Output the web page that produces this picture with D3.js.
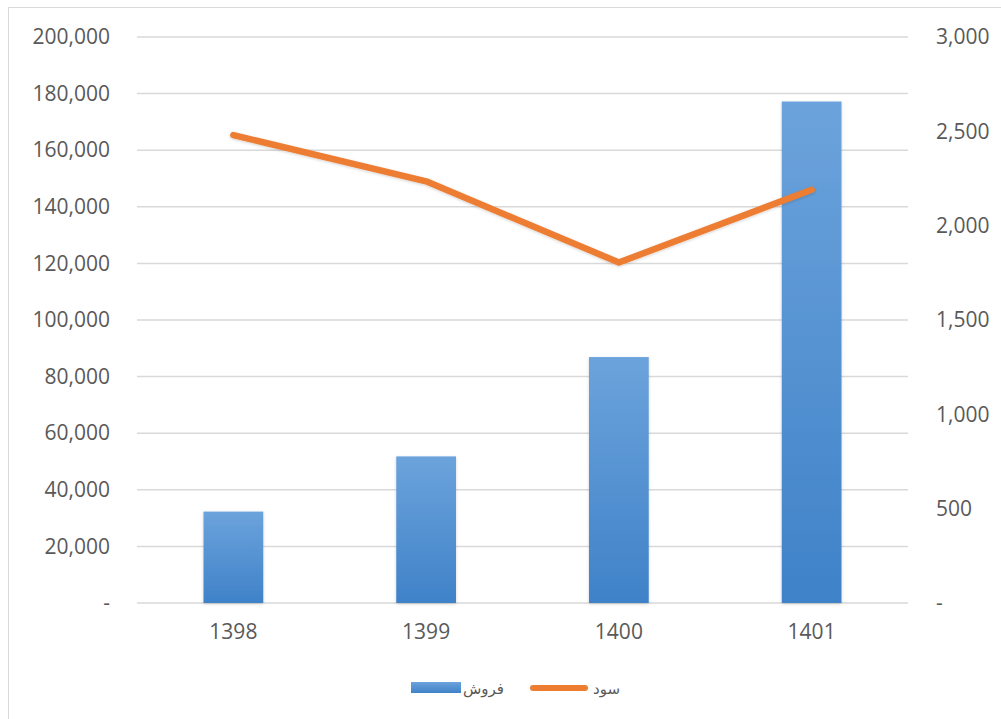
<!DOCTYPE html>
<html>
<head>
<meta charset="utf-8">
<script src="https://cdn.jsdelivr.net/npm/d3@7"></script>
<style>
  html, body { margin: 0; padding: 0; background: #fff; }
  svg text { font-family: "Open Sans", "Noto Sans", sans-serif; fill: #595959; }
  .legend text { font-family: "DejaVu Sans", "Noto Sans", sans-serif; }
</style>
</head>
<body>
<div id="chart"></div>
<script>
var years = ['1398', '1399', '1400', '1401'];
var sales = [32300, 51800, 86900, 177200];   // فروش
var profit = [2480, 2235, 1805, 2190];        // سود
var leftTicks = [0, 20000, 40000, 60000, 80000, 100000, 120000, 140000, 160000, 180000, 200000];
var rightTicks = [0, 500, 1000, 1500, 2000, 2500, 3000];
var legendLabels = ['فروش', 'سود'];

var width = 1001, height = 719,
  margin = {left: 137, right: 93, top: 37, bottom: 116};

var svg = d3.select("#chart").append("svg")
  .attr("width", width).attr("height", height);

var defs = svg.append("defs");
var grad = defs.append("linearGradient").attr("id", "barGrad")
  .attr("x1", 0).attr("y1", 0).attr("x2", 0).attr("y2", 1);
grad.append("stop").attr("offset", "0%").attr("stop-color", "#6ca3dc");
grad.append("stop").attr("offset", "100%").attr("stop-color", "#3f82c8");

var shadow = defs.append("filter").attr("id", "soft")
  .attr("x", "-20%").attr("y", "-20%").attr("width", "140%").attr("height", "140%");
shadow.append("feDropShadow").attr("dx", 0).attr("dy", 1).attr("stdDeviation", 1.5)
  .attr("flood-color", "#000").attr("flood-opacity", 0.18);

// outer frame
svg.append("rect").attr("x", 8.5).attr("y", 7.5)
  .attr("width", 1100).attr("height", 800)
  .attr("fill", "none").attr("stroke", "#d9d9d9").attr("stroke-width", 1);

var x = d3.scaleBand().domain(years)
  .range([margin.left, width - margin.right])
  .paddingInner(0.69).paddingOuter(0.345);

var y = d3.scaleLinear().domain([0, 200000])
  .range([height - margin.bottom, margin.top]);
var y2 = d3.scaleLinear().domain([0, 3000])
  .range([height - margin.bottom, margin.top]);

var fmt = d3.format(",");

// gridlines
svg.append("g").selectAll("line").data(leftTicks).enter().append("line")
  .attr("x1", margin.left).attr("x2", width - margin.right)
  .attr("y1", function(d){ return y(d) }).attr("y2", function(d){ return y(d) })
  .attr("stroke", "#d9d9d9").attr("stroke-width", 1.5);

// left axis
var yAxis = svg.append("g")
  .attr("transform", `translate(${margin.left},0)`)
  .call(d3.axisLeft(y).tickValues(leftTicks).tickSize(0).tickPadding(27)
    .tickFormat(function(d){ return d == 0 ? '-' : fmt(d) }));
yAxis.select(".domain").remove();
yAxis.selectAll("text").style("font-size", "21px").attr("fill", "#595959");

// right axis
var y2Axis = svg.append("g")
  .attr("transform", `translate(${width - margin.right},0)`)
  .call(d3.axisRight(y2).tickValues(rightTicks).tickSize(0).tickPadding(28)
    .tickFormat(function(d){ return d == 0 ? '-' : fmt(d) }));
y2Axis.select(".domain").remove();
y2Axis.selectAll("text").style("font-size", "21px").attr("fill", "#595959");

// x axis
var xAxis = svg.append("g")
  .attr("transform", `translate(0,${height - margin.bottom})`)
  .call(d3.axisBottom(x).tickSize(0).tickPadding(21));
xAxis.select(".domain").remove();
xAxis.selectAll("text").style("font-size", "21px").attr("fill", "#595959");

// bars
svg.append("g").selectAll("rect").data(sales).enter().append("rect")
  .attr("x", function(d, i){ return x(years[i]) })
  .attr("width", x.bandwidth())
  .attr("y", function(d){ return y(d) })
  .attr("height", function(d){ return y(0) - y(d) })
  .attr("fill", "url(#barGrad)")
  .attr("filter", "url(#soft)");

// profit line
var line = d3.line()
  .x(function(d, i){ return x(years[i]) + x.bandwidth() / 2 })
  .y(function(d){ return y2(d) });

svg.append("path").datum(profit)
  .attr("d", line)
  .attr("fill", "none")
  .attr("stroke", "#ed7d31")
  .attr("stroke-width", 6.5)
  .attr("stroke-linecap", "round")
  .attr("stroke-linejoin", "round")
  .attr("filter", "url(#soft)");

// legend (RTL)
var legend = svg.append("g").attr("class", "legend");
legend.append("rect").attr("x", 411).attr("y", 682).attr("width", 50).attr("height", 11)
  .attr("fill", "url(#barGrad)");
legend.append("text").attr("x", 504).attr("y", 694)
  .attr("text-anchor", "end").style("font-size", "15px").text(legendLabels[0]);
legend.append("line").attr("x1", 533).attr("x2", 585).attr("y1", 688).attr("y2", 688)
  .attr("stroke", "#ed7d31").attr("stroke-width", 6).attr("stroke-linecap", "round");
legend.append("text").attr("x", 620).attr("y", 694)
  .attr("text-anchor", "end").style("font-size", "15px").text(legendLabels[1]);
</script>
</body>
</html>
